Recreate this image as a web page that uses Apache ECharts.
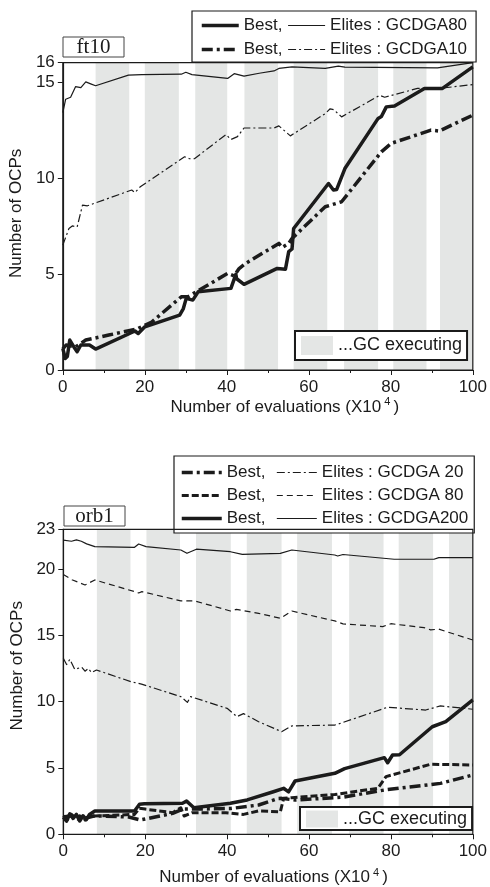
<!DOCTYPE html>
<html>
<head>
<meta charset="utf-8">
<script src="https://cdn.jsdelivr.net/npm/echarts@6/dist/echarts.min.js"></script>
<style>
  html, body { margin: 0; padding: 0; background: #fff; }
  #chart { width: 490px; height: 887px; }
</style>
</head>
<body>
<div id="chart"></div>
<script>
// ---- ft10 (top panel) ----
var ftBands = [[8, 16.2], [20, 28.3], [32.3, 40.1], [44.3, 52.5], [56.3, 64.5], [68.6, 76.9], [80.6, 88.7], [92, 100]];
var ftYTicks = [0, 5, 10, 15, 16];

var ftBest80X = [0, 0.6, 1.1, 1.7, 2.7, 3.5, 4.4, 6.5, 8.0, 17.6, 18.4, 20, 28.5, 29.4, 30.1, 31.7, 33, 41, 42.2, 42.4, 44.2, 52.3, 54.3, 55.1, 55.9, 56.3, 64.8, 66, 66.8, 68.8, 76.9, 77.7, 78.9, 80.9, 88.2, 92.6, 100];
var ftBest80Y = [1.13, 0.6, 0.7, 1.56, 1.2, 0.95, 1.3, 1.3, 1.09, 2.03, 1.9, 2.25, 2.86, 3.2, 3.73, 3.64, 4.07, 4.25, 4.98, 4.75, 4.46, 5.29, 5.25, 6.16, 6.3, 7.37, 9.71, 9.37, 9.4, 10.49, 13.1, 13.2, 13.7, 13.75, 14.66, 14.66, 15.78];

var ftElite80X = [0, 0.7, 1.9, 3.1, 4.4, 5.6, 6.8, 8.0, 16.0, 19.3, 28.9, 30, 31.5, 40.2, 41.8, 44.2, 47.9, 51.5, 52.7, 55.9, 64.0, 67.2, 68.8, 91.4, 100];
var ftElite80Y = [13.4, 14.1, 14.2, 14.75, 14.7, 15.0, 14.9, 14.8, 15.35, 15.38, 15.4, 15.5, 15.38, 15.18, 15.43, 15.3, 15.45, 15.57, 15.7, 15.78, 15.7, 15.82, 15.77, 15.73, 16.0];

var ftBest10X = [0, 0.8, 3.1, 5.6, 11.2, 18.0, 21.7, 28.9, 30.5, 40.2, 41.8, 43, 44.6, 52.7, 53.5, 55.1, 55.9, 64, 68, 77.7, 80.1, 89.8, 91.8, 100];
var ftBest10Y = [1.1, 1.3, 1.2, 1.56, 1.82, 2.13, 2.5, 3.81, 3.81, 5.03, 4.9, 5.28, 5.55, 6.59, 6.38, 6.59, 6.85, 8.5, 8.76, 11.36, 11.8, 12.49, 12.44, 13.27];

var ftElite10X = [0, 1.5, 2.3, 3.5, 4.8, 6.0, 16.8, 17.6, 18.9, 29.7, 30.9, 32.1, 39.8, 41.0, 42.6, 44.2, 51.5, 52.7, 55.5, 64.0, 65.2, 66.1, 68.0, 77.3, 78.5, 86.5, 91.8, 100];
var ftElite10Y = [6.5, 7.37, 7.5, 7.45, 8.58, 8.55, 9.37, 9.24, 9.54, 11.1, 11.0, 11.0, 12.26, 12.0, 12.15, 12.6, 12.6, 12.71, 12.19, 13.35, 13.6, 13.55, 13.18, 14.3, 14.2, 14.66, 14.66, 14.86];

// ---- orb1 (bottom panel) ----
var orbBands = [[8.2, 16.4], [20.3, 28.5], [32.4, 40.9], [44.8, 53.3], [57.1, 65.6], [69.8, 78.2], [81.9, 90.3], [94.2, 100]];
var orbYTicks = [0, 5, 10, 15, 20, 23];

var orbBest20X = [0, 2, 4, 7.7, 16, 18.8, 20, 26.7, 29.2, 33, 41, 47.7, 52.5, 53.3, 56.6, 68.3, 78.4, 92.1, 100];
var orbBest20Y = [1.3, 1.4, 1.1, 1.4, 1.3, 1.08, 1.15, 1.58, 1.9, 1.9, 1.95, 2.21, 2.7, 2.71, 2.58, 2.8, 3.34, 3.84, 4.47];

var orbElite20X = [0, 0.8, 1.6, 2.8, 4.5, 5.3, 6.1, 6.9, 8.1, 16.6, 19.1, 28.7, 30.3, 31.1, 40, 42.4, 44, 47.7, 53.3, 55.8, 66.3, 67, 79.2, 88.5, 92.1, 100];
var orbElite20Y = [13.27, 12.8, 13.2, 12.44, 12.6, 12.3, 12.5, 12.2, 12.39, 11.5, 11.33, 10.38, 9.95, 10.38, 9.5, 8.87, 9.1, 8.49, 7.74, 8.17, 8.24, 8.3, 9.58, 9.37, 9.68, 9.43];

var orbBest80X = [0, 1, 2, 3, 4, 5, 6, 7.7, 17.4, 18.6, 20, 26.7, 28.7, 29.5, 31.5, 39.7, 44, 47.7, 53, 53.8, 55.8, 66.3, 76.8, 78.8, 89.7, 100];
var orbBest80Y = [1.4, 1.1, 1.5, 1.2, 1.4, 1.0, 1.3, 1.38, 1.5, 1.96, 1.9, 1.63, 2.0, 1.38, 1.63, 1.63, 1.5, 1.76, 1.7, 2.71, 2.76, 3.0, 3.47, 4.35, 5.28, 5.23];

var orbElite80X = [0, 2.1, 5.3, 7.7, 17.4, 18.4, 19.2, 28.7, 32.1, 40.8, 42.3, 47.7, 53.0, 55.8, 66.3, 68.3, 78, 80, 88.1, 89.7, 91.7, 100];
var orbElite80Y = [19.6, 19.2, 18.8, 19.18, 18.3, 18.2, 18.3, 17.6, 17.6, 16.84, 16.96, 16.66, 16.29, 16.84, 16.09, 15.87, 15.66, 15.88, 15.58, 15.42, 15.47, 14.65];

var orbBest200X = [0, 0.8, 1.6, 2.4, 3.2, 4.0, 4.8, 5.6, 6.4, 7.7, 17.4, 18.6, 19.8, 29.1, 30.1, 31.9, 40.8, 44.9, 51.3, 53.8, 55, 56.6, 66.3, 68.7, 78.4, 79.2, 80.4, 82.1, 90.1, 93.4, 100];
var orbBest200Y = [1.3, 1.0, 1.55, 1.2, 1.5, 1.0, 1.4, 1.1, 1.5, 1.76, 1.76, 2.26, 2.3, 2.34, 2.5, 2.0, 2.34, 2.59, 3.21, 3.47, 3.2, 4.02, 4.6, 4.95, 5.78, 5.4, 5.98, 6.0, 8.11, 8.49, 10.13];

var orbElite200X = [0, 2, 3.2, 4.4, 5.7, 7.7, 17.4, 18.4, 20.2, 28.7, 30.2, 32.5, 40.8, 43.7, 53.0, 55.8, 66.3, 67, 68.3, 80.8, 90.5, 91.7, 100];
var orbElite200Y = [22.19, 22.1, 22.2, 22.1, 21.9, 21.69, 21.64, 21.89, 21.69, 21.44, 21.19, 21.5, 21.31, 21.11, 21.19, 21.44, 21.06, 20.99, 21.1, 20.74, 20.74, 20.86, 20.86];

var legendText = {
  b80: 'Best,', e80: 'Elites : GCDGA80',
  b10: 'Best,', e10: 'Elites : GCDGA10',
  b20: 'Best, ', e20: 'Elites : GCDGA 20',
  b80o: 'Best, ', e80o: 'Elites : GCDGA 80',
  b200: 'Best, ', e200: 'Elites : GCDGA200'
};

var ink = '#1b1b1b';
var bandColor = '#e4e6e5';
var font = '"Liberation Sans", Arial, sans-serif';

function pairs(xs, ys) {
  var out = [];
  for (var i = 0; i < xs.length; i++) out.push([xs[i], ys[i]]);
  return out;
}

function curve(name, gi, xs, ys, width, dash) {
  return {
    name: name, type: 'line', xAxisIndex: gi, yAxisIndex: gi,
    data: pairs(xs, ys), symbol: 'none', z: 3,
    lineStyle: { color: ink, width: width, type: dash, cap: 'butt', join: 'round' },
    itemStyle: { color: ink, opacity: 0 }
  };
}

function gcSeries(gi, bands) {
  return {
    name: '...GC executing', type: 'line', xAxisIndex: gi, yAxisIndex: gi,
    data: [], symbol: 'none', z: 1,
    itemStyle: { color: bandColor }, lineStyle: { color: bandColor },
    markArea: {
      silent: true,
      itemStyle: { color: bandColor },
      label: { show: false },
      data: bands.map(function (b) { return [{ xAxis: b[0] }, { xAxis: b[1] }]; })
    }
  };
}

function xAxisOf(gi, gap, shift) {
  return {
    gridIndex: gi, type: 'value', min: 0, max: 100, interval: 20,
    axisLine: { show: true, onZero: false, lineStyle: { color: ink, width: 1.2 } },
    axisTick: { show: true, length: 5, lineStyle: { color: ink } },
    minorTick: { show: true, splitNumber: 2, length: 3, lineStyle: { color: ink } },
    axisLabel: { fontSize: 17, color: ink, margin: 9, fontFamily: font },
    splitLine: { show: false },
    name: '{a|Number of evaluations (X10}{s| 4 }{a|)}',
    nameLocation: 'middle', nameGap: gap,
    nameTextStyle: {
      padding: [0, 0, 0, shift],
      rich: {
        a: { fontSize: 17, color: ink, fontFamily: font, lineHeight: 20 },
        s: { fontSize: 11, color: ink, fontFamily: font, verticalAlign: 'top', lineHeight: 20 }
      }
    }
  };
}

function yAxisOf(gi, max, ticks, shift) {
  return {
    gridIndex: gi, type: 'value', min: 0, max: max,
    axisLine: { show: true, lineStyle: { color: ink, width: 1.2 } },
    axisTick: { show: true, length: 5, customValues: ticks, lineStyle: { color: ink } },
    axisLabel: { fontSize: 17, color: ink, margin: 8, fontFamily: font, customValues: ticks },
    splitLine: { show: false },
    name: 'Number of OCPs', nameLocation: 'middle', nameGap: 30,
    nameTextStyle: { fontSize: 17, color: ink, fontFamily: font, padding: [0, 0, 0, shift] }
  };
}

var chart = echarts.init(document.getElementById('chart'));
var option = {
  animation: false,
  backgroundColor: '#fff',
  grid: [
    { left: 62, right: 14, top: 62.7, height: 307.3, show: true, borderColor: ink, borderWidth: 1.2, z: 5 },
    { left: 63.3, right: 14, top: 529.3, height: 305, show: true, borderColor: ink, borderWidth: 1.2, z: 5 }
  ],
  xAxis: [xAxisOf(0, 24, 34), xAxisOf(1, 33, 11)],
  yAxis: [yAxisOf(0, 16, ftYTicks, 6), yAxisOf(1, 23, orbYTicks, 32)],
  legend: [
    {
      left: 192, top: 11, width: 290, padding: [5, 9, 3, 8],
      itemGap: 5, itemWidth: 37, itemHeight: 14, selectedMode: false,
      data: ['b80', 'e80', 'b10', 'e10'],
      formatter: function (n) { return legendText[n]; },
      itemStyle: { opacity: 0 },
      lineStyle: { width: 'inherit' },
      textStyle: { fontSize: 17, color: ink, fontFamily: font, lineHeight: 19 },
      borderColor: ink, borderWidth: 1.2, backgroundColor: '#fff'
    },
    {
      left: 174, top: 456, width: 300, padding: [8, 6, 6, 6],
      itemGap: 6, itemWidth: 40, itemHeight: 14, selectedMode: false,
      data: ['b20', 'e20', 'b80o', 'e80o', 'b200', 'e200'],
      formatter: function (n) { return legendText[n]; },
      itemStyle: { opacity: 0 },
      lineStyle: { width: 'inherit' },
      textStyle: { fontSize: 17, color: ink, fontFamily: font, lineHeight: 16 },
      borderColor: ink, borderWidth: 1.2, backgroundColor: '#fff'
    },
    {
      left: 295, top: 331, padding: [5, 5, 5, 6], icon: 'rect',
      itemWidth: 32, itemHeight: 19, selectedMode: false,
      data: ['...GC executing'],
      textStyle: { fontSize: 18, color: ink, fontFamily: font },
      borderColor: ink, borderWidth: 2, backgroundColor: '#fff'
    },
    {
      left: 300, top: 807, padding: [3, 5, 2, 6], icon: 'rect',
      itemWidth: 32, itemHeight: 17, selectedMode: false,
      data: ['...GC executing'],
      textStyle: { fontSize: 18, color: ink, fontFamily: font },
      borderColor: ink, borderWidth: 2, backgroundColor: '#fff'
    }
  ],
  graphic: [
    { type: 'rect', shape: { x: 63, y: 37, width: 61, height: 20 }, style: { fill: '#fff', stroke: '#444', lineWidth: 1 } },
    { type: 'text', x: 93.5, y: 47.5, style: { text: 'ft10', font: '21px "Liberation Serif", serif', fill: ink, align: 'center', verticalAlign: 'middle' } },
    { type: 'rect', shape: { x: 64, y: 506, width: 61, height: 20 }, style: { fill: '#fff', stroke: '#444', lineWidth: 1 } },
    { type: 'text', x: 94.5, y: 516.5, style: { text: 'orb1', font: '21px "Liberation Serif", serif', fill: ink, align: 'center', verticalAlign: 'middle' } }
  ],
  series: [
    gcSeries(0, ftBands),
    curve('b80', 0, ftBest80X, ftBest80Y, 3.5, 'solid'),
    curve('e80', 0, ftElite80X, ftElite80Y, 1.2, 'solid'),
    curve('b10', 0, ftBest10X, ftBest10Y, 3.5, [11, 4, 3, 4]),
    curve('e10', 0, ftElite10X, ftElite10Y, 1.2, [8, 3, 2, 3]),

    gcSeries(1, orbBands),
    curve('b20', 1, orbBest20X, orbBest20Y, 3.5, [11, 4, 3, 4]),
    curve('e20', 1, orbElite20X, orbElite20Y, 1.2, [8, 3, 2, 3]),
    curve('b80o', 1, orbBest80X, orbBest80Y, 3, [7, 3]),
    curve('e80o', 1, orbElite80X, orbElite80Y, 1.2, [6, 4]),
    curve('b200', 1, orbBest200X, orbBest200Y, 3.5, 'solid'),
    curve('e200', 1, orbElite200X, orbElite200Y, 1.2, 'solid')
  ]
};
chart.setOption(option);
</script>
</body>
</html>
